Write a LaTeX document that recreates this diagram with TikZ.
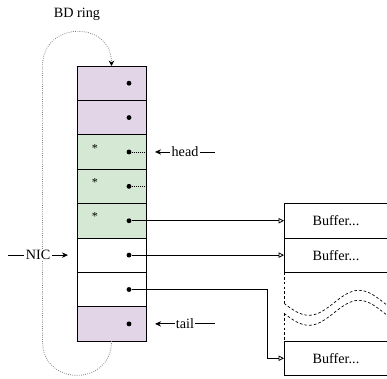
\documentclass[tikz,border=0pt]{standalone}
\usepackage{fontspec}
\setmainfont{Liberation Serif}
\usepackage{tikz}
\usetikzlibrary{positioning,arrows.meta}

\definecolor{ringpurple}{HTML}{E1D5E7}
\definecolor{ringgreen}{HTML}{D5E8D4}

\tikzset{
  cell/.style={draw, line width=0.6pt, minimum width=1.794cm, minimum height=0.894cm, inner sep=0pt, outer sep=0pt},
  buf/.style={draw, line width=0.6pt, minimum width=2.704cm, minimum height=0.894cm, inner sep=0pt, outer sep=0pt},
  dot/.style={circle, fill, inner sep=0pt, minimum size=3.6pt},
  asterisk/.style={inner sep=0pt, font=\fontsize{9}{10}\selectfont},
  lbl/.style={fill=white, inner sep=1pt},
  ptr/.style={line width=0.6pt, -{Triangle[open,length=4pt,width=4pt]}},
  tear/.style={line width=0.5pt, dash pattern=on 2pt off 1.5pt},
}

\begin{document}
\begin{tikzpicture}[x=0.026cm, y=0.026cm, font=\fontsize{10.5}{12.5}\selectfont]
            \useasboundingbox (0,0) rectangle (387,-379);
            \clip (0,0) rectangle (387,-379);

            \node (ringlbl) at (77,-14) {BD ring} ; %

            \node[cell, fill=ringpurple] (c1) at (111.5,-83.2) {} ; %
            \node[cell, fill=ringpurple, below=0pt of c1] (c2) {} ; %
            \node[cell, fill=ringgreen, below=0pt of c2] (c3) {} ; %
            \node[cell, fill=ringgreen, below=0pt of c3] (c4) {} ; %
            \node[cell, fill=ringgreen, below=0pt of c4] (c5) {} ; %
            \node[cell, below=0pt of c5] (c6) {} ; %
            \node[cell, below=0pt of c6] (c7) {} ; %
            \node[cell, fill=ringpurple, below=0pt of c7] (c8) {} ; %

            \node[dot] (d1) at ([xshift=0.455cm]c1.center) {} ; %
            \node[dot] (d2) at ([xshift=0.455cm]c2.center) {} ; %
            \node[dot] (d3) at ([xshift=0.455cm]c3.center) {} ; %
            \node[dot] (d4) at ([xshift=0.455cm]c4.center) {} ; %
            \node[dot] (d5) at ([xshift=0.455cm]c5.center) {} ; %
            \node[dot] (d6) at ([xshift=0.455cm]c6.center) {} ; %
            \node[dot] (d7) at ([xshift=0.455cm]c7.center) {} ; %
            \node[dot] (d8) at ([xshift=0.455cm]c8.center) {} ; %

            \node[asterisk] (s3) at ([xshift=-0.43cm,yshift=0.1cm]c3.center) {*} ; %
            \node[asterisk] (s4) at ([xshift=-0.43cm,yshift=0.1cm]c4.center) {*} ; %
            \node[asterisk] (s5) at ([xshift=-0.43cm,yshift=0.1cm]c5.center) {*} ; %

            \node[buf, right=3.588cm of c5] (b1) {Buffer...} ; %
            \node[buf, below=0pt of b1] (b2) {Buffer...} ; %
            \node[buf, below=1.788cm of b2] (b3) {Buffer...} ; %

            % ring wraps around
            \draw[gray, densely dotted, line width=0.6pt, -{Stealth[length=4pt,width=4pt,black]}]
                (c8.south) to[out=-90,in=-90,looseness=1.7] ++(-69,0) -- ++(0,275)
                to[out=90,in=90,looseness=1.7] (c1.north) ; %

            \draw[densely dotted, line width=0.5pt] (d3) -- (c3.east) ; %
            \draw[densely dotted, line width=0.5pt] (d4) -- (c4.east) ; %

            \draw[{Stealth[length=4.5pt,width=4pt]}-, line width=0.6pt] ([xshift=0.234cm]c3.east) -- node[lbl] {head} ++(60,0) ; %
            \draw[{Stealth[length=4.5pt,width=4pt]}-, line width=0.6pt] ([xshift=0.234cm]c8.east) -- node[lbl] {tail} ++(60,0) ; %
            \draw[{Stealth[length=4.5pt,width=4pt]}-, line width=0.6pt] ([xshift=-0.234cm]c6.west) -- node[lbl] {NIC} ++(-60,0) ; %

            \draw[ptr] (d5) -- (b1) ; %
            \draw[ptr] (d6) -- (b2) ; %
            \coordinate (bend) at ([xshift=-0.442cm]b3.west) ; %
            \draw[ptr] (d7) -| (bend) -- (b3) ; %

            % torn gap between the buffers
            \draw[tear] (b2.south west) -- ++(0,-31) coordinate (w1) ; %
            \coordinate (w2) at ([yshift=-0.26cm]w1) ; %
            \draw[tear] (w1) sin ++(25,-12) cos ++(25,12.5) sin ++(25,12.5) cos ++(25,-12.5) sin ++(25,-12.5) ; %
            \draw[tear] (w2) sin ++(25,-12) cos ++(25,12.5) sin ++(25,12.5) cos ++(25,-12.5) sin ++(25,-12.5) ; %
            \draw[tear] (w2) -- (b3.north west) ; %
	\end{tikzpicture}
\end{document}
